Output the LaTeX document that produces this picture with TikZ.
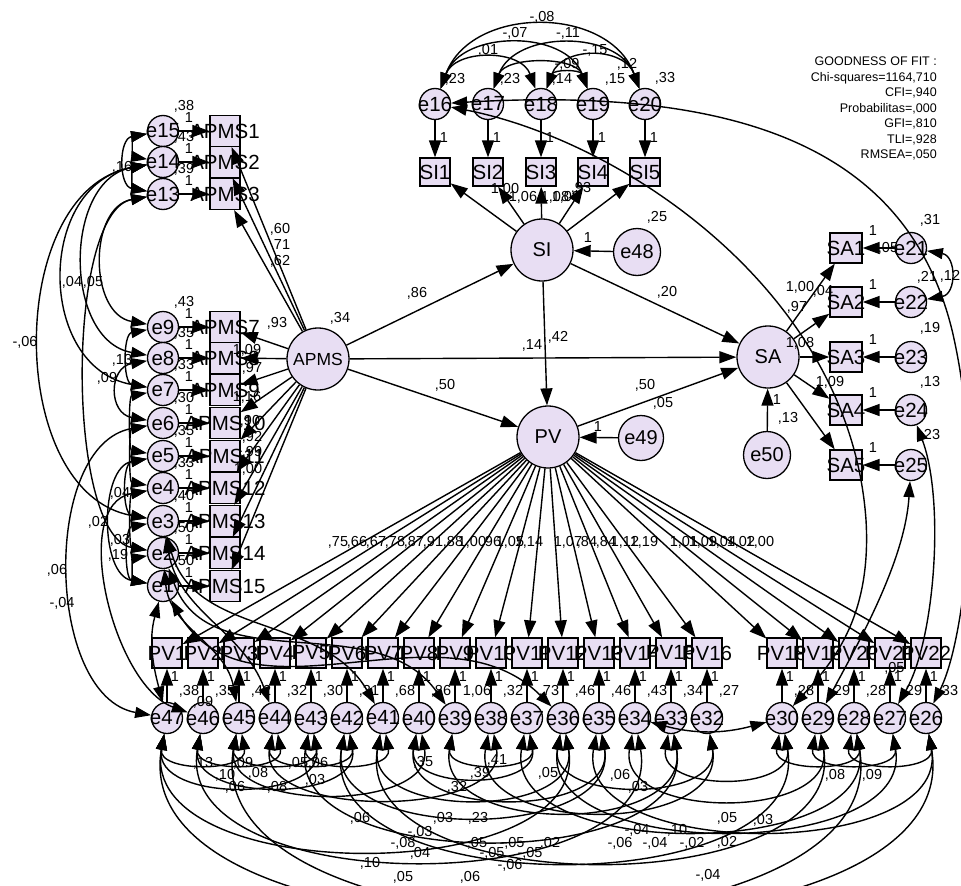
\documentclass[tikz,border=0pt]{standalone}
\usepackage{fontspec}
\setmainfont{Liberation Sans}
\usetikzlibrary{arrows.meta}
\definecolor{lav}{RGB}{232,222,243}
\begin{document}
\begin{tikzpicture}[x=1pt,y=1pt,
 lat/.style={circle,draw,line width=1.3pt,fill=lav,minimum size=62pt,inner sep=0pt,font=\fontsize{20}{20}\selectfont},
 errb/.style={circle,draw,line width=1.3pt,fill=lav,minimum size=47pt,inner sep=0pt,font=\fontsize{20}{20}\selectfont},
 err/.style={circle,draw,line width=1.3pt,fill=lav,minimum size=31pt,inner sep=0pt},
 obs/.style={rectangle,draw,line width=1.3pt,fill=lav,minimum width=30pt,minimum height=30pt,inner sep=0pt},
 nl/.style={font=\fontsize{20.5}{20.5}\selectfont,inner sep=0pt},
 cf/.style={font=\fontsize{14.5}{14.5}\selectfont,inner sep=0pt},
 reg/.style={line width=1.4pt,-{Triangle[length=17pt,width=12pt]}},
 cov/.style={line width=1.4pt,{Triangle[length=16pt,width=11pt]}-{Triangle[length=16pt,width=11pt]}},
]
\useasboundingbox (0,0) rectangle (961,-886);
\begin{scope}
\clip (0,0) rectangle (961,-886);
% ---------- latent variables
\node[lat,font=\fontsize{17.5}{17.5}\selectfont] (APMS) at (318,-359) {APMS};
\node[lat] (SI) at (542,-250) {SI};
\node[lat] (SA) at (768,-357) {SA};
\node[lat] (PV) at (548,-437) {PV};
\node[errb] (e48) at (637,-252) {e48};
\node[errb,minimum size=45pt] (e49) at (641,-438) {e49};
\node[errb] (e50) at (767,-455) {e50};
% ---------- SI indicators
\foreach \i/\x/\k in {1/435/16,2/488/17,3/541/18,4/593/19,5/645/20}{
  \node[obs,minimum height=28pt,label={[nl]center:SI\i}] (SI\i) at (\x,-172) {};
  \node[err,label={[nl]center:e\k}] (e\k) at (\x,-104) {};
}
% ---------- APMS indicators
\foreach \q/\y/\k in {1/131/15,2/162/14,3/194/13,7/327/9,8/358/8,9/390/7,10/423/6,11/456/5,12/488/4,13/521/3,14/553/2,15/586/1}{
  \node[obs,minimum height=31pt,label={[nl]center:APMS\q}] (APMS\q) at (225,-\y) {};
  \node[err,label={[nl]center:e\k}] (e\k) at (163,-\y) {};
}
% ---------- SA indicators
\foreach \q/\y/\k in {1/248/21,2/302/22,3/357/23,4/410/24,5/465/25}{
  \node[obs,minimum width=32pt,label={[nl]center:SA\q}] (SA\q) at (846,-\y) {};
  \node[err,label={[nl]center:e\k}] (e\k) at (911,-\y) {};
}
% ---------- PV indicators
\foreach \i/\x/\k in {1/167/47,2/203/46,3/239/45,4/275/44,5/311/43,6/347/42,7/383/41,8/419/40,9/455/39,10/491/38,11/527/37,12/563/36,13/599/35,14/635/34,15/671/33,16/707/32,18/782/30,19/818/29,20/854/28,21/890/27,22/926/26}{
  \node[obs,label={[nl]center:PV\i}] (PV\i) at (\x,-653) {};
  \node[err,label={[nl]center:e\k}] (e\k) at (\x,-718) {};
}
% ---------- measurement arrows
\foreach \i/\k in {1/16,2/17,3/18,4/19,5/20}{
  \draw[reg] (e\k) -- (SI\i);
  \draw[reg] (SI) -- (SI\i);
}
\foreach \q/\k in {1/15,2/14,3/13,7/9,8/8,9/7,10/6,11/5,12/4,13/3,14/2,15/1}{
  \draw[reg] (e\k) -- (APMS\q);
  \draw[reg] (APMS) -- (APMS\q);
}
\foreach \q/\k in {1/21,2/22,3/23,4/24,5/25}{
  \draw[reg] (e\k) -- (SA\q);
  \draw[reg] (SA) -- (SA\q);
}
\foreach \i/\k in {1/47,2/46,3/45,4/44,5/43,6/42,7/41,8/40,9/39,10/38,11/37,12/36,13/35,14/34,15/33,16/32,18/30,19/29,20/28,21/27,22/26}{
  \draw[reg] (e\k) -- (PV\i);
  \draw[reg] (PV) -- (PV\i);
}
% ---------- structural arrows
\draw[reg] (APMS) -- (SI);
\draw[reg] (APMS) -- (SA);
\draw[reg] (APMS) -- (PV);
\draw[reg] (SI) -- (SA);
\draw[reg] (SI) -- (PV);
\draw[reg] (PV) -- (SA);
\draw[reg] (e48) -- (SI);
\draw[reg] (e49) -- (PV);
\draw[reg] (e50) -- (SA);
% ---------- covariances: SI errors
\draw[cov] (e16) to[out=70,in=110,looseness=1.15] (e20);
\draw[cov] (e16) to[out=70,in=110,looseness=1.1] (e19);
\draw[cov] (e17) to[out=70,in=110,looseness=1.1] (e20);
\draw[cov] (e16) to[out=70,in=110,looseness=1.15] (e18);
\draw[cov] (e18) to[out=70,in=110,looseness=1.25] (e20);
\draw[cov] (e17) to[out=70,in=110,looseness=0.95] (e19);
\draw[cov] (e18) to[out=70,in=110,looseness=1.3] (e19);
% long curves from e16
\draw[cov] (e16) .. controls (620,-140) and (850,-290) .. (866,-520) .. controls (872,-620) and (830,-665) .. (e30);
\draw[cov] (e16) .. controls (760,-85) and (910,-160) .. (952,-330) .. controls (985,-470) and (965,-640) .. (e26);
% ---------- covariances: SA errors
\draw[cov] (e21) to[out=-10,in=10,looseness=1.6] (e22);
\draw[cov] (e24) .. controls (945,-500) and (935,-640) .. (e27);
\draw[cov] (e25) .. controls (905,-560) and (860,-640) .. (e29);
% ---------- covariances: APMS errors (left)
\draw[cov] (e15) to[out=190,in=170,looseness=1.5] (e14);
\draw[cov] (e14) to[out=190,in=170,looseness=1.5] (e13);
\draw[cov] (e15) to[out=190,in=170,looseness=1.3] (e13);
\draw[cov] (e13) to[out=190,in=170,looseness=1.2] (e9);
\draw[cov] (e14) to[out=190,in=170,looseness=1.15] (e8);
\draw[cov] (e14) to[out=190,in=170,looseness=1.3] (e7);
\draw[cov] (e14) to[out=190,in=170,looseness=1.05] (e3);
\draw[cov] (e13) to[out=190,in=170,looseness=0.6] (e2);
\draw[cov] (e9) to[out=190,in=170,looseness=1.1] (e7);
\draw[cov] (e8) to[out=190,in=170,looseness=1.7] (e6);
\draw[cov] (e7) to[out=190,in=170,looseness=0.8] (e5);
\draw[cov] (e6) to[out=190,in=170,looseness=0.8] (e4);
\draw[cov] (e5) to[out=190,in=170,looseness=1.1] (e3);
\draw[cov] (e5) to[out=190,in=170,looseness=1.0] (e1);
\draw[cov] (e4) to[out=190,in=170,looseness=0.8] (e2);
\draw[cov] (e3) to[out=190,in=170,looseness=1.0] (e1);
\draw[cov] (e2) to[out=190,in=170,looseness=1.4] (e1);
\draw[cov] (e6) to[out=190,in=170,looseness=0.95] (e47);
\draw[cov] (e4) to[out=190,in=160,looseness=0.9] (e46);
% from APMS errors down to PV errors
\draw[cov] (e3) to[out=-80,in=110] (e44);
\draw[cov] (e3) to[out=-75,in=120] (e41);
\draw[cov] (e2) to[out=-70,in=125] (e39);
\draw[cov] (e1) to[out=-60,in=135] (e36);
\draw[cov] (e2) to[out=-85,in=100] (e45);
\draw[cov] (e47) to[out=105,in=-105] (e1);
% ---------- covariances: PV errors (bottom)
\foreach \a/\b/\l in {47/45/1.3,46/44/1.3,45/43/1.3,44/42/1.3,43/41/1.3,47/43/1.2,46/42/1.2,
  45/40/1.1,44/38/1.0,47/36/1.0,46/34/1.0,43/33/1.0,42/30/1.0,41/29/1.0,
  40/35/1.2,39/33/1.2,38/32/1.2,37/28/1.0,36/27/1.0,35/26/1.0,
  40/37/1.3,34/29/1.2,33/30/1.3,30/28/1.3,29/27/1.3,28/26/1.3,
  41/36/1.2,39/37/1.3,36/32/1.2,45/26/0.9,47/28/0.9,42/35/1.1}{
  \draw[cov] (e\a) to[out=-100,in=-80,looseness=\l] (e\b);
}
\draw[cov] (e34) to[out=-15,in=-165] (e30);
% ---------- coefficient labels
\foreach \n/\x/\y/\t in {
  1/417/293/{,86},2/667/292/{,20},3/532/345/{,14},4/558/337/{,42},5/445/385/{,50},6/645/385/{,50},
  7/663/403/{,05},8/340/318/{,34},9/588/238/{1},10/657/217/{,25},11/598/427/{1},
  12/777/400/{1},13/788/418/{,13},
  14/505/189/{1,00},15/523/197/{1,06},16/555/197/{1,08},17/566/197/{1,09},18/581/188/{,93},
  19/455/79/{,23},20/510/79/{,23},21/562/79/{,14},22/615/79/{,15},23/665/78/{,33},
  24/542/17/{-,08},25/515/33/{-,07},26/568/33/{-,11},27/488/50/{,01},28/595/50/{-,15},29/567/64/{-,09},30/627/64/{,12},
  31/800/287/{1,00},32/823/291/{,04},33/797/307/{,97},34/800/343/{1,08},35/830/382/{1,09},36/888/248/{,05},
  37/930/220/{,31},38/927/277/{,21},39/950/276/{,12},40/930/328/{,19},41/930/382/{,13},42/930/435/{,23},
  43/280/229/{,60},44/282/245/{71},45/280/261/{,62},46/277/323/{,93},47/247/350/{1,09},48/252/368/{,97},
  49/247/397/{1,16},50/250/421/{,90},51/252/437/{,92},52/252/452/{,99},53/248/469/{1,00},
  54/122/167/{,16},55/72/282/{,04},56/93/282/{,05},57/25/342/{-,06},58/122/360/{,13},59/107/378/{,09},
  60/120/493/{,04},61/98/522/{,02},62/120/540/{,03},63/118/555/{,19},64/57/570/{,06},65/62/603/{-,04},
  66/203/763/{,13},67/243/763/{,09},68/298/763/{,05},69/318/763/{,06},70/225/775/{,10},71/258/773/{,08},
  72/235/787/{,06},73/277/787/{,08},74/315/780/{,03},75/423/762/{,35},76/480/773/{,39},77/457/787/{,32},
  78/497/760/{,41},79/548/773/{,05},80/620/775/{,06},81/638/787/{,03},82/360/818/{,06},83/443/818/{,03},
  84/478/818/{,23},85/420/832/{-,03},86/403/843/{-,08},87/420/853/{,04},88/477/843/{,05},89/492/853/{-,05},
  90/512/843/{-,05},91/530/853/{-,05},92/550/843/{,02},93/510/865/{-,06},94/370/863/{,10},95/403/877/{,05},
  96/470/877/{,06},97/727/818/{,05},98/763/820/{,03},99/637/830/{-,04},100/677/830/{,10},101/620/843/{-,06},
  102/655/843/{-,04},103/692/843/{-,02},104/727/842/{,02},105/835/775/{,08},106/872/775/{,09},107/708/875/{-,04},
  108/203/702/{,09},109/892/668/{-,05}}{
  \node[cf] (c\n) at (\x,-\y) {\t};
}
% "1" and variance labels of the error terms
\foreach \k/\x in {16/435,17/488,18/541,19/593,20/645}{
  \node[cf] (u\k) at (\x+9,-138) {1};
}
\foreach \k/\y/\v in {15/131/{,38},14/162/{,43},13/194/{,39},9/327/{,43},8/358/{,35},7/390/{,33},6/423/{,30},5/456/{,35},4/488/{,33},3/521/{,40},2/553/{,50},1/586/{,50}}{
  \node[cf] (u\k) at (189,-\y+13) {1};
  \node[cf] (v\k) at (184,-\y+25) {\v};
}
\foreach \k/\y in {21/248,22/302,23/357,24/410,25/465}{
  \node[cf] (u\k) at (873,-\y+17) {1};
}
\foreach \k/\x/\v in {47/167/{,38},46/203/{,35},45/239/{,42},44/275/{,32},43/311/{,30},42/347/{,31},41/383/{,68},40/419/{,86},39/455/{1,06},38/491/{,32},37/527/{,73},36/563/{,46},35/599/{,46},34/635/{,43},33/671/{,34},32/707/{,27},30/782/{,28},29/818/{,29},28/854/{,28},27/890/{,29},26/926/{,33}}{
  \node[cf] (u\k) at (\x+8,-677) {1};
  \node[cf] (v\k) at (\x+22,-691) {\v};
}
% PV loadings
\foreach \i/\x/\t in {1/338/{,75},2/357/{,66},3/376/{,67},4/395/{,78},5/414/{,87},6/433/{,91},7/453/{,88},8/472/{1,00},9/491/{,96},10/510/{1,05},11/529/{1,14},
  12/568/{1,07},13/587/{,84},14/606/{,84},15/625/{1,12},16/644/{1,19},18/684/{1,01},19/703/{1,09},20/722/{1,04},21/741/{1,02},22/760/{1,00}}{
  \node[cf] (L\i) at (\x,-542) {\t};
}
\end{scope}
% goodness of fit
\node[font=\fontsize{12.5}{15.5}\selectfont,align=right,anchor=north east,inner sep=0pt] (gof) at (937,-57)
 {GOODNESS OF FIT :\\Chi-squares=1164,710\\CFI=,940\\Probabilitas=,000\\GFI=,810\\TLI=,928\\RMSEA=,050};
\end{tikzpicture}
\end{document}
